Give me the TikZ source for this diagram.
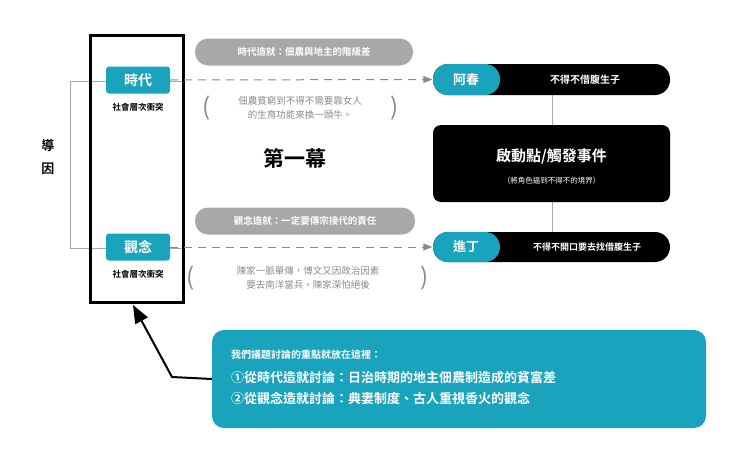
\documentclass[tikz,border=0pt]{standalone}
\usepackage{fontspec}
\newfontfamily\cjk{Noto Sans CJK TC}[BoldFont={Noto Sans CJK TC Bold}]
\usetikzlibrary{arrows.meta}
\definecolor{teal1}{HTML}{1AA3BD}
\definecolor{pillgray}{HTML}{A8A8A8}
\definecolor{txtgray}{HTML}{8A8A8A}
\tikzset{
 every node/.style={font=\cjk\bfseries, inner sep=0pt},
 tealbox/.style={fill=teal1, rounded corners=3pt, text=white, font=\cjk\bfseries\fontsize{14}{14}\selectfont},
 sub/.style={font=\cjk\bfseries\fontsize{8.5}{9}\selectfont},
 graypill/.style={fill=pillgray, rounded corners=13pt, text=white, font=\cjk\bfseries\fontsize{9.5}{10}\selectfont},
 note/.style={text=txtgray, align=center, font=\cjk\fontsize{9.5}{14}\selectfont},
 paren/.style={text=txtgray, font=\cjk\fontsize{24}{24}\selectfont},
 dasharrow/.style={draw=txtgray, dashed, dash pattern=on 8pt off 6pt, line width=1pt, -{Triangle[length=9pt,width=7pt]}},
 grayline/.style={draw=pillgray, line width=1pt},
}
\begin{document}
\begin{tikzpicture}[x=1pt,y=-1pt]
\useasboundingbox (0,0) rectangle (740,450);
% bracket
\draw[grayline] (106,81) -- (70,81) -- (70,248) -- (106,248);
\draw[grayline] (170,81) -- (183,81);
\draw[grayline] (170,248) -- (183,248);
\node[font=\cjk\bfseries\fontsize{13}{13}\selectfont] (daoyin) at (48,157) {\shortstack{導\\[8pt]因}};
% frame
\draw[line width=3pt] (90,35) rectangle (183,302);
\node (frame) at (136.5,168.5) [minimum width=93pt, minimum height=267pt] {};
\node[tealbox, minimum width=64pt, minimum height=27pt] (shidai) at (138,80) {時代};
\node[sub] (s1) at (138,107) {社會層次衝突};
\node[tealbox, minimum width=64pt, minimum height=27pt] (guannian) at (138,247) {觀念};
\node[sub] (s2) at (138,274) {社會層次衝突};
% gray pills
\node[graypill, minimum width=218pt, minimum height=27pt] (p1) at (304,52) {時代造就：佃農與地主的階級差};
\node[graypill, minimum width=220pt, minimum height=27pt] (p2) at (305,221) {觀念造就：一定要傳宗接代的責任};
% notes
\node[note] (n1) at (300,108) {佃農貧窮到不得不需要靠女人\\的生育功能來換一頭牛。};
\node[paren] at (207,108) {(};
\node[paren] at (395,108) {)};
\node[note] (n2) at (308,278) {陳家一脈單傳，博文又因政治因素\\要去南洋當兵，陳家深怕絕後};
\node[paren] at (191,278) {(};
\node[paren] at (425,278) {)};
\node[font=\cjk\bfseries\fontsize{21}{21}\selectfont] (act) at (295,158) {第一幕};
% right pills
\draw[grayline] (552,95) -- (552,232);
\fill (433,64) [rounded corners=15pt] rectangle (670,95);
\fill[teal1] (433,64) [rounded corners=15pt] rectangle (500,95);
\node[text=white, font=\cjk\bfseries\fontsize{13}{13}\selectfont] (achun) at (466,79.5) [minimum width=67pt, minimum height=31pt] {阿春};
\node[text=white, font=\cjk\bfseries\fontsize{10}{10}\selectfont] at (585,79.5) {不得不借腹生子};
\fill (433,232) [rounded corners=15pt] rectangle (670,262);
\fill[teal1] (433,232) [rounded corners=15pt] rectangle (500,262);
\node[text=white, font=\cjk\bfseries\fontsize{13}{13}\selectfont] (jinding) at (466,247) [minimum width=67pt, minimum height=30pt] {進丁};
\node[text=white, font=\cjk\bfseries\fontsize{9}{9}\selectfont] at (587,247) {不得不開口要去找借腹生子};
\node[fill=black, rounded corners=8pt, minimum width=237pt, minimum height=77pt] (event) at (551.5,163.5) {};
\node[text=white, font=\cjk\bfseries\fontsize{15}{15}\selectfont] at (551.5,156) {啟動點/觸發事件};
\node[text=white, font=\cjk\fontsize{7.5}{8}\selectfont] at (551.5,181) {（將角色逼到不得不的境界）};
\draw[dasharrow] (shidai.east) -- (achun.west);
\draw[dasharrow] (guannian.east) -- (jinding.west);
% bottom box
\node[fill=teal1, rounded corners=12pt, minimum width=494pt, minimum height=98pt] (focus) at (459,379) {};
\node[text=white, anchor=west, align=left, font=\cjk\bfseries\fontsize{10}{10}\selectfont] at (231,355) {我們議題討論的重點就放在這裡：};
\node[text=white, anchor=west, font=\cjk\bfseries\fontsize{13}{13}\selectfont] at (231,378) {①從時代造就討論：日治時期的地主佃農制造成的貧富差};
\node[text=white, anchor=west, font=\cjk\bfseries\fontsize{13}{13}\selectfont] at (231,398) {②從觀念造就討論：典妻制度、古人重視香火的觀念};
\draw[line width=2pt, -{Triangle[length=18pt,width=14pt]}] (focus.west) -- (172,377) -- (133,305);
\end{tikzpicture}
\end{document}
